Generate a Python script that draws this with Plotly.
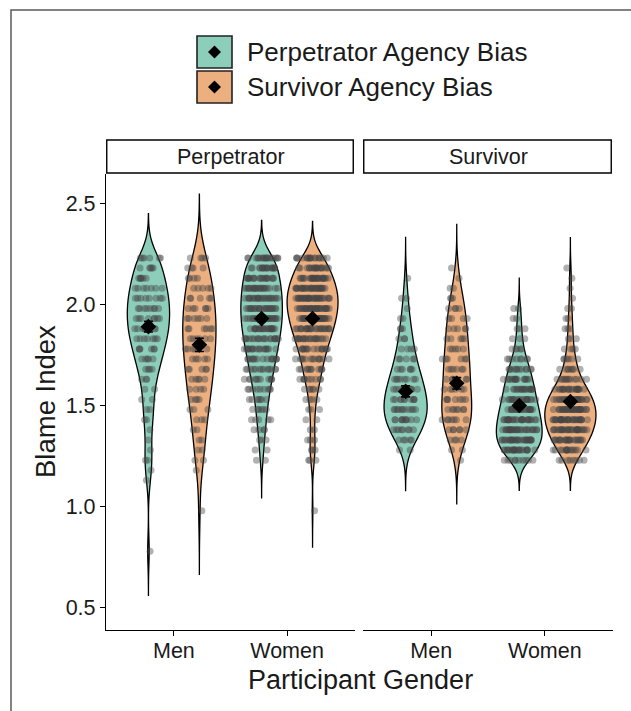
import numpy as np
import plotly.graph_objects as go

# ---------------- data ----------------
GENDERS = ["Men", "Women"]
TARGETS = ["Perpetrator", "Survivor"]
CONDITIONS = ["Perpetrator Agency Bias", "Survivor Agency Bias"]

# Blame Index levels (observed values are discrete)
LEVELS = [0.78, 0.83, 0.88, 0.93, 0.98, 1.03, 1.08, 1.13, 1.18, 1.23,
          1.28, 1.33, 1.38, 1.43, 1.48, 1.53, 1.58, 1.63, 1.68, 1.73,
          1.78, 1.83, 1.88, 1.93, 1.98, 2.03, 2.08, 2.13, 2.18, 2.23]

# number of participants at each level
PERP_MEN_PAB = [1, 0, 0, 0, 0, 0, 0, 1, 1, 2, 1, 1, 1, 2, 2, 2, 2, 3, 4, 5, 6, 7, 8, 8, 8, 8, 7, 6, 5, 6]
PERP_MEN_SAB = [0, 0, 0, 0, 1, 0, 0, 0, 1, 2, 2, 2, 2, 3, 3, 4, 4, 5, 5, 5, 6, 6, 6, 6, 6, 5, 5, 4, 4, 4]
PERP_WOMEN_PAB = [0, 0, 0, 0, 0, 0, 0, 0, 0, 2, 2, 3, 4, 5, 6, 7, 9, 11, 13, 15, 17, 19, 21, 22, 22, 22, 21, 19, 17, 18]
PERP_WOMEN_SAB = [0, 0, 0, 0, 1, 0, 0, 0, 0, 3, 3, 3, 2, 2, 3, 4, 6, 9, 11, 13, 16, 20, 24, 27, 29, 30, 28, 24, 18, 17]
SURV_MEN_PAB = [0, 0, 0, 0, 0, 0, 0, 0, 0, 0, 2, 5, 8, 10, 11, 10, 9, 8, 6, 5, 4, 3, 3, 2, 1, 2, 0, 1, 0, 0]
SURV_MEN_SAB = [0, 0, 0, 0, 0, 0, 0, 0, 0, 1, 2, 4, 6, 7, 7, 7, 6, 6, 6, 6, 5, 5, 5, 4, 4, 3, 2, 1, 1, 0]
SURV_WOMEN_PAB = [0, 0, 0, 0, 0, 0, 0, 0, 0, 10, 22, 26, 26, 24, 22, 19, 17, 15, 12, 8, 5, 3, 3, 2, 2, 0, 0, 0, 0, 0]
SURV_WOMEN_SAB = [0, 0, 0, 0, 0, 0, 0, 0, 0, 8, 15, 22, 27, 30, 30, 27, 20, 12, 8, 6, 4, 3, 3, 2, 2, 1, 1, 1, 1, 0]

# kernel bandwidths of the violins (Men, Women)
BW_PERP_PAB = [0.073, 0.062]
BW_PERP_SAB = [0.105, 0.060]
BW_SURV_PAB = [0.067, 0.050]
BW_SURV_SAB = [0.072, 0.050]

# means and standard errors (Men, Women)
MEAN_PERP_PAB = [1.89, 1.93]
MEAN_PERP_SAB = [1.80, 1.93]
MEAN_SURV_PAB = [1.57, 1.50]
MEAN_SURV_SAB = [1.61, 1.52]
SE_PERP_PAB = [0.026, 0.015]
SE_PERP_SAB = [0.033, 0.014]
SE_SURV_PAB = [0.027, 0.013]
SE_SURV_SAB = [0.028, 0.013]

Y_TICKS = [0.5, 1.0, 1.5, 2.0, 2.5]

# ---------------- styling ----------------
FILL = {CONDITIONS[0]: "#8DCEBB", CONDITIONS[1]: "#ECAF80"}
DODGE = {CONDITIONS[0]: -0.225, CONDITIONS[1]: 0.225}   # position_dodge(0.9)
MAX_VIOLIN_W = 0.45
JITTER_HALF = 0.155          # horizontal jitter half-width (x units)
FONT = "Liberation Sans, Arial, sans-serif"
TXT = "#1a1a1a"

COUNTS = {
    ("Perpetrator", CONDITIONS[0]): [PERP_MEN_PAB, PERP_WOMEN_PAB],
    ("Perpetrator", CONDITIONS[1]): [PERP_MEN_SAB, PERP_WOMEN_SAB],
    ("Survivor", CONDITIONS[0]): [SURV_MEN_PAB, SURV_WOMEN_PAB],
    ("Survivor", CONDITIONS[1]): [SURV_MEN_SAB, SURV_WOMEN_SAB],
}
BWS = {
    ("Perpetrator", CONDITIONS[0]): BW_PERP_PAB,
    ("Perpetrator", CONDITIONS[1]): BW_PERP_SAB,
    ("Survivor", CONDITIONS[0]): BW_SURV_PAB,
    ("Survivor", CONDITIONS[1]): BW_SURV_SAB,
}
MEANS = {
    ("Perpetrator", CONDITIONS[0]): (MEAN_PERP_PAB, SE_PERP_PAB),
    ("Perpetrator", CONDITIONS[1]): (MEAN_PERP_SAB, SE_PERP_SAB),
    ("Survivor", CONDITIONS[0]): (MEAN_SURV_PAB, SE_SURV_PAB),
    ("Survivor", CONDITIONS[1]): (MEAN_SURV_SAB, SE_SURV_SAB),
}
GPOS = list(range(1, len(GENDERS) + 1))  # category slots on the x axis


def kde_peak(vals, bw, span):
    """peak of the gaussian KDE (used to give equal-area violins like ggplot)"""
    grid = np.linspace(span[0], span[1], 600)
    v = np.asarray(vals)
    d = np.exp(-0.5 * ((grid[:, None] - v[None, :]) / bw) ** 2).sum(axis=1)
    return (d / (len(v) * bw * np.sqrt(2 * np.pi))).max()


fig = go.Figure()
AX = {"Perpetrator": ("x", "y"), "Survivor": ("x2", "y2")}

for target in TARGETS:
    xa, ya = AX[target]
    groups = []
    for cond in CONDITIONS:
        for gi, gender in enumerate(GENDERS):
            counts = COUNTS[(target, cond)][gi]
            vals = [lv for lv, c in zip(LEVELS, counts) for _ in range(c)]
            bw = BWS[(target, cond)][gi]
            span = [min(vals) - 3 * bw, max(vals) + 3 * bw]
            groups.append((cond, gi, gender, vals, bw, span, kde_peak(vals, bw, span)))
    top_peak = max(g[-1] for g in groups)
    for cond, gi, gender, vals, bw, span, peak in groups:
        w = MAX_VIOLIN_W * peak / top_peak
        fig.add_trace(go.Violin(
            x=[GPOS[gi] + DODGE[cond]] * len(vals), y=vals,
            xaxis=xa, yaxis=ya, width=w,
            bandwidth=bw, spanmode="manual", span=span,
            fillcolor=FILL[cond], opacity=1,
            line=dict(color="black", width=1.3),
            points="all", pointpos=0, jitter=min(1.0, JITTER_HALF / (w / 2)),
            marker=dict(color="rgba(70,70,70,0.42)", size=7, line=dict(width=0)),
            scalemode="width",
            box_visible=False, meanline_visible=False,
            showlegend=False, hoverinfo="skip", name=f"{target} {cond} {gender}",
        ))

for target in TARGETS:
    xa, ya = AX[target]
    for cond in CONDITIONS:
        m, se = MEANS[(target, cond)]
        fig.add_trace(go.Scatter(
            x=[p + DODGE[cond] for p in GPOS], y=m, xaxis=xa, yaxis=ya, mode="markers",
            marker=dict(symbol="diamond", size=12, color="black"),
            error_y=dict(type="data", array=se, color="black", thickness=1.6, width=4.5),
            showlegend=False, hoverinfo="skip",
        ))

W, H = 631, 711
def px_x(p):
    return p / W
def px_y(p):
    return (H - p) / H

DOM_L = [px_x(106), px_x(355)]
DOM_R = [px_x(363), px_x(613)]
DOM_Y = [px_y(630), px_y(174)]
YR = [0.39, 2.645]

xcommon = dict(range=[0.4, 2.6], tickvals=GPOS, ticktext=GENDERS,
               showline=True, linecolor="black",
               linewidth=1.3, ticks="outside", ticklen=5, tickcolor="black", tickwidth=1.2,
               ticklabelstandoff=-4,
               tickfont=dict(size=21.5, color=TXT, family=FONT), showgrid=False, zeroline=False,
               fixedrange=True)
fig.update_layout(
    width=W, height=H, margin=dict(l=0, r=0, t=0, b=0),
    paper_bgcolor="white", plot_bgcolor="white",
    violinmode="overlay",
    font=dict(family=FONT, color=TXT),
    xaxis=dict(domain=DOM_L, anchor="y", **xcommon),
    xaxis2=dict(domain=DOM_R, anchor="y2", **xcommon),
    yaxis=dict(domain=DOM_Y, range=YR, tickvals=Y_TICKS, tickformat=".1f",
               showline=True, linecolor="black", linewidth=1.3,
               ticks="outside", ticklen=5, tickcolor="black", tickwidth=1.2,
               tickfont=dict(size=21.5, color=TXT, family=FONT),
               showgrid=False, zeroline=False, anchor="x"),
    yaxis2=dict(domain=DOM_Y, range=YR, matches="y", showline=False,
                showticklabels=False, ticks="", showgrid=False, zeroline=False, anchor="x2"),
)

shapes = []
annotations = []
# outer frame
shapes.append(dict(type="rect", xref="paper", yref="paper", x0=px_x(11), x1=1.3,
                   y0=-0.3, y1=px_y(10), line=dict(color="#5a5a5a", width=1.5),
                   fillcolor="rgba(0,0,0,0)", layer="below"))
# facet strips
for target, xr in zip(TARGETS, ["x domain", "x2 domain"]):
    shapes.append(dict(type="rect", xref=xr, yref="paper", x0=0.003, x1=0.993,
                       y0=px_y(173), y1=px_y(140), line=dict(color="black", width=1.4),
                       fillcolor="white"))
    annotations.append(dict(text=target, xref=xr, yref="paper", x=0.5,
                            y=(px_y(173) + px_y(140)) / 2, xanchor="center", yanchor="middle",
                            showarrow=False, font=dict(size=21.5, color=TXT, family=FONT)))
# legend
for i, cond in enumerate(CONDITIONS):
    top = 36 + i * 35
    bot = top + 32
    cy = (top + bot) / 2
    shapes.append(dict(type="rect", xref="paper", yref="paper", x0=px_x(197), x1=px_x(232),
                       y0=px_y(bot), y1=px_y(top), line=dict(color="#222", width=1.6),
                       fillcolor=FILL[cond]))
    shapes.append(dict(type="path", xref="paper", yref="paper", xsizemode="pixel",
                       ysizemode="pixel", xanchor=px_x(214.5), yanchor=px_y(cy),
                       path="M -6.5 0 L 0 6.5 L 6.5 0 L 0 -6.5 Z", fillcolor="black",
                       line=dict(width=0)))
    annotations.append(dict(text=cond, xref="paper", yref="paper", x=px_x(245), y=px_y(cy),
                            xanchor="left", yanchor="middle", showarrow=False,
                            font=dict(size=26, color=TXT, family=FONT)))
# axis titles
annotations.append(dict(text="Blame Index", xref="paper", yref="paper", x=px_x(45), y=px_y(402),
                        textangle=-90, xanchor="center", yanchor="middle", showarrow=False,
                        font=dict(size=27.5, color=TXT, family=FONT)))
annotations.append(dict(text="Participant Gender", xref="paper", yref="paper", x=px_x(360),
                        y=px_y(680), xanchor="center", yanchor="middle", showarrow=False,
                        font=dict(size=27, color=TXT, family=FONT)))
fig.update_layout(shapes=shapes, annotations=annotations)

fig.write_html("out.html")
